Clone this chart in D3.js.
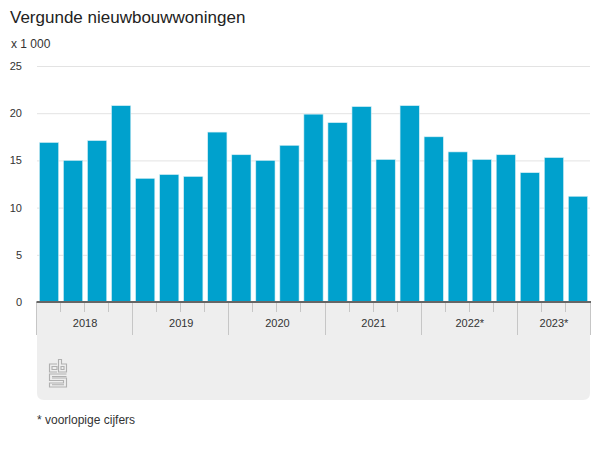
<!doctype html>
<html>
<head>
    <meta charset="utf-8">
    <script src="https://d3js.org/d3.v7.min.js"></script>
    <style>
        html, body { margin: 0; padding: 0; background: #fff; }
        svg { display: block; font-family: "Liberation Sans", Arial, sans-serif; }
    </style>
</head>
<body>
    <svg width="600" height="450" id="mainsvg"></svg>
    <script>
        const data = [
            {year: "2018", q: 1, value: 16.9}, {year: "2018", q: 2, value: 15.0},
            {year: "2018", q: 3, value: 17.1}, {year: "2018", q: 4, value: 20.8},
            {year: "2019", q: 1, value: 13.1}, {year: "2019", q: 2, value: 13.5},
            {year: "2019", q: 3, value: 13.3}, {year: "2019", q: 4, value: 18.0},
            {year: "2020", q: 1, value: 15.6}, {year: "2020", q: 2, value: 15.0},
            {year: "2020", q: 3, value: 16.6}, {year: "2020", q: 4, value: 19.9},
            {year: "2021", q: 1, value: 19.0}, {year: "2021", q: 2, value: 20.7},
            {year: "2021", q: 3, value: 15.1}, {year: "2021", q: 4, value: 20.8},
            {year: "2022*", q: 1, value: 17.5}, {year: "2022*", q: 2, value: 15.9},
            {year: "2022*", q: 3, value: 15.1}, {year: "2022*", q: 4, value: 15.6},
            {year: "2023*", q: 1, value: 13.7}, {year: "2023*", q: 2, value: 15.3},
            {year: "2023*", q: 3, value: 11.2}
        ];

        const svg = d3.select('svg');
        const margin = {left: 37, right: 10, top: 66};
        const baseY = 302;

        const x = d3.scaleBand()
            .domain(d3.range(data.length))
            .range([margin.left, 600 - margin.right])
            .paddingInner(0.2)
            .paddingOuter(0.1);
        const y = d3.scaleLinear().domain([0, 25]).range([baseY, margin.top]);
        const left = i => margin.left + i * (600 - margin.left - margin.right) / data.length;
        const crisp = v => Math.round(v) - 0.5;

        // title + unit
        svg.append('text').attr('x', 10).attr('y', 23)
            .attr('font-size', 17).attr('fill', '#222').text('Vergunde nieuwbouwwoningen');
        svg.append('text').attr('x', 11).attr('y', 48)
            .attr('font-size', 12).attr('fill', '#333').text('x 1 000');

        // grey panel below the axis, only the bottom corners are round
        const px0 = margin.left, px1 = 590, pb = 400, r = 7;
        svg.append('path')
            .attr('d', `M${px0},${baseY}H${px1}V${pb - r}Q${px1},${pb} ${px1 - r},${pb}H${px0 + r}Q${px0},${pb} ${px0},${pb - r}Z`)
            .attr('fill', '#eeeeee');

        // gridlines and y labels
        const yAxis = d3.axisLeft(y).tickValues([0, 5, 10, 15, 20, 25])
            .tickSize(-(px1 - px0)).tickPadding(15);
        const yG = svg.append('g').attr('transform', `translate(${px0},0)`).call(yAxis);
        yG.select('.domain').remove();
        yG.selectAll('.tick line').attr('stroke', '#e3e3e3').attr('stroke-width', 1);
        yG.selectAll('.tick text').attr('font-size', 11).attr('fill', '#333')
            .attr('font-family', '"Liberation Sans", Arial, sans-serif');

        // bars
        svg.append('g').selectAll('rect').data(data).join('rect')
            .attr('x', (d, i) => x(i))
            .attr('y', d => y(d.value))
            .attr('width', x.bandwidth())
            .attr('height', d => baseY - y(d.value))
            .attr('fill', '#00a1cd')
            .attr('stroke', '#d6eef5')
            .attr('stroke-width', 0.6);

        // quarter and year ticks
        const ticks = svg.append('g').attr('stroke', '#c6c6c6').attr('stroke-width', 1);
        data.forEach((d, i) => {
            ticks.append('line')
                .attr('x1', crisp(left(i))).attr('x2', crisp(left(i)))
                .attr('y1', baseY).attr('y2', d.q === 1 ? 335 : 312);
        });
        ticks.append('line').attr('x1', px1 + 0.5).attr('x2', px1 + 0.5).attr('y1', baseY).attr('y2', 335);

        // year labels, centred on their quarters
        const years = d3.groups(data.map((d, i) => ({...d, i})), d => d.year);
        svg.append('g').selectAll('text').data(years).join('text')
            .attr('x', ([, rows]) => (left(rows[0].i) + left(rows[rows.length - 1].i + 1)) / 2)
            .attr('y', 327)
            .attr('text-anchor', 'middle')
            .attr('font-size', 11)
            .attr('fill', '#333')
            .text(([year]) => year);

        // baseline
        svg.append('line').attr('x1', px0 - 0.5).attr('x2', px1 + 1).attr('y1', baseY).attr('y2', baseY)
            .attr('stroke', '#666').attr('stroke-width', 2);

        // cbs logo
        const logo = svg.append('g').attr('transform', 'translate(49,359)')
            .attr('fill', 'none').attr('stroke', '#b0b0b0').attr('stroke-width', 1.1);
        logo.append('path').attr('d', 'M8,5H0.5V13H8 M3,7.5H8V10.5H3Z');
        logo.append('path').attr('d', 'M9.5,0.5H12.5V5H17.5V13H9.5Z M12,7.5H15V10.5H12Z');
        logo.append('path').attr('d', 'M17.5,15H0.5V21.5H14.5V24H0.5V28H17.5V21.5 M3,17.5H17.5 M3,19H17.5V21.5 M3,25.8H15');

        // footnote
        svg.append('text').attr('x', 37).attr('y', 424)
            .attr('font-size', 12).attr('fill', '#333').text('* voorlopige cijfers');
    </script>
</body>
</html>
